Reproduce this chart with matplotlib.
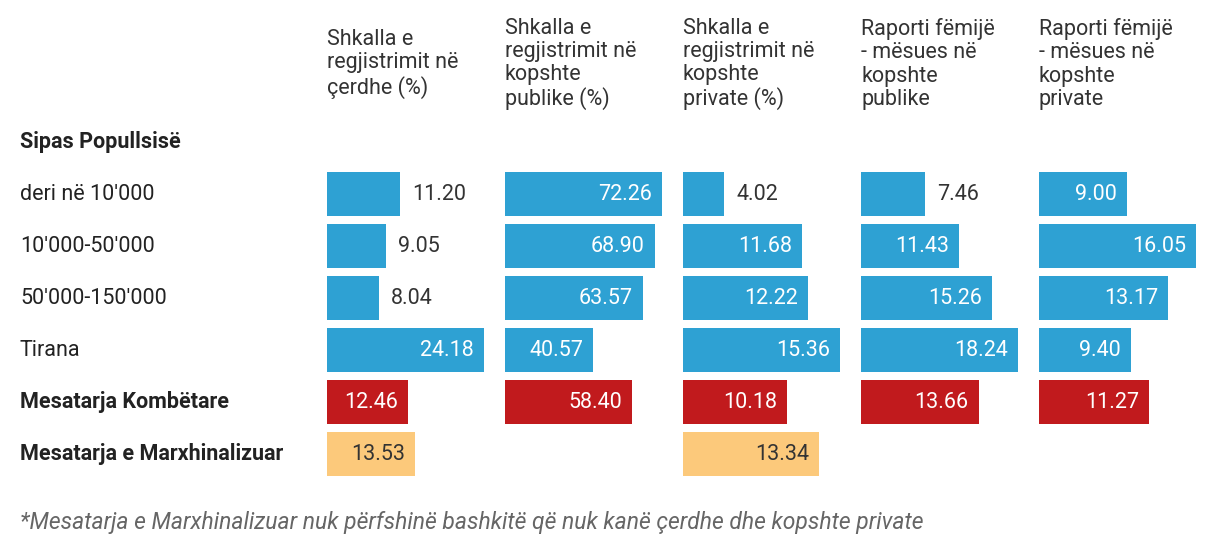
import matplotlib
matplotlib.use("Agg")
import matplotlib.pyplot as plt
from matplotlib.transforms import blended_transform_factory
import numpy as np

plt.rcParams['font.family'] = ['Roboto', 'DejaVu Sans']

# ---------------- data ----------------
row_labels = ["Sipas Popullsisë", "deri në 10'000", "10'000-50'000", "50'000-150'000",
              "Tirana", "Mesatarja Kombëtare", "Mesatarja e Marxhinalizuar"]
bold_rows = [0, 5, 6]
column_titles = [
    "Shkalla e\nregjistrimit në\nçerdhe (%)",
    "Shkalla e\nregjistrimit në\nkopshte\npublike (%)",
    "Shkalla e\nregjistrimit në\nkopshte\nprivate (%)",
    "Raporti fëmijë\n- mësues në\nkopshte\npublike",
    "Raporti fëmijë\n- mësues në\nkopshte\nprivate",
]
# values per row 1..6 (None = no bar)
cerdhe        = [11.20, 9.05, 8.04, 24.18, 12.46, 13.53]
kopsht_pub    = [72.26, 68.90, 63.57, 40.57, 58.40, None]
kopsht_priv   = [4.02, 11.68, 12.22, 15.36, 10.18, 13.34]
raport_pub    = [7.46, 11.43, 15.26, 18.24, 13.66, None]
raport_priv   = [9.00, 16.05, 13.17, 9.40, 11.27, None]
columns = [cerdhe, kopsht_pub, kopsht_priv, raport_pub, raport_priv]
footnote = "*Mesatarja e Marxhinalizuar nuk përfshinë bashkitë që nuk kanë çerdhe dhe kopshte private"

# ---------------- style ----------------
W, H = 1224, 538
BLUE = "#2ea1d3"
RED = "#c11a1d"
ORANGE = "#fcc97b"
TEXT = "#333333"
FS = 15.5
row_colors = [BLUE, BLUE, BLUE, BLUE, RED, ORANGE]

fig = plt.figure(figsize=(W / 100, H / 100), dpi=100)

col_x = [327, 505, 683, 861, 1039]
col_w = 178
bar_frac = 157 / 178
row0_y = 142
pitch = 52
top_px = row0_y - pitch / 2
bot_px = row0_y + 6 * pitch + pitch / 2

axes = []
for ci, vals in enumerate(columns):
    ax = fig.add_axes([col_x[ci] / W, 1 - bot_px / H, col_w / W, (bot_px - top_px) / H])
    ax.set_axis_off()
    vmax = max(v for v in vals if v is not None)
    xmax = vmax / bar_frac
    ax.set_xlim(0, xmax)
    ax.set_ylim(6.5, -0.5)
    for ri, v in enumerate(vals):
        if v is None:
            continue
        y = ri + 1
        col = row_colors[ri]
        ax.barh(y, v, height=44 / 52, color=col, left=0)
        px = v / xmax * col_w
        label = f"{v:.2f}"
        if px >= 76:
            tc = "white" if col != ORANGE else TEXT
            ax.annotate(label, (v, y), xytext=(-10, 0), textcoords="offset pixels",
                        ha="right", va="center", fontsize=FS, color=tc)
        else:
            ax.annotate(label, (v, y), xytext=(12, 0), textcoords="offset pixels",
                        ha="left", va="center", fontsize=FS, color=TEXT)
    axes.append(ax)
    fig.text(col_x[ci] / W, 1 - 64 / H, column_titles[ci], ha="left", va="center",
             fontsize=FS, color=TEXT, linespacing=1.13)

# row labels
tr = blended_transform_factory(fig.transFigure, axes[0].transData)
for ri, lab in enumerate(row_labels):
    fig.text(20 / W, ri, lab, transform=tr, ha="left", va="center", fontsize=FS,
             color="#222222", fontweight="bold" if ri in bold_rows else "normal")

fig.text(20 / W, 1 - 522 / H, footnote, ha="left", va="center", fontsize=16.5,
         style="italic", color="#666666")

fig.savefig("out.png", dpi=100, facecolor="white")
